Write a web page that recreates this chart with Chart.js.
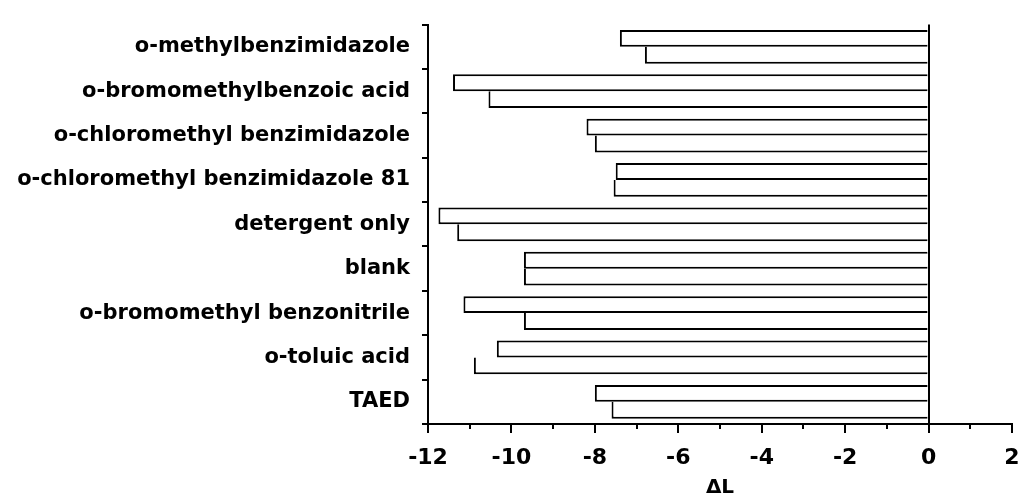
<!DOCTYPE html>
<html>
<head>
<meta charset="utf-8">
<title>ΔL by additive</title>
<script src="https://cdn.jsdelivr.net/npm/chart.js@4/dist/chart.umd.min.js"></script>
<style>
  html, body { margin: 0; padding: 0; background: #fff; overflow: hidden; }
  canvas { display: block; }
</style>
</head>
<body>
<canvas id="chart" width="1019" height="500"></canvas>
<script>
// additives, top to bottom
const compounds = [
  "o-methylbenzimidazole",
  "o-bromomethylbenzoic acid",
  "o-chloromethyl benzimidazole",
  "o-chloromethyl benzimidazole 81",
  "detergent only",
  "blank",
  "o-bromomethyl benzonitrile",
  "o-toluic acid",
  "TAED"
];

// two runs per additive (upper bar, lower bar)
const runA = [-7.4, -11.4, -8.2, -7.5, -11.75, -9.7, -11.15, -10.35, -8.0];
const runB = [-6.8, -10.55, -8.0, -7.55, -11.3, -9.7, -9.7, -10.9, -7.6];

const xMin = -12;
const xMax = 2;
const xStep = 2;
const minorTicks = [-11, -9, -7, -5, -3, -1, 1];

const FONT = "'DejaVu Sans', sans-serif";

// short ticks at the odd values under the x axis
const minorTickPlugin = {
  id: "minorTicks",
  afterDraw(chart) {
    const sx = chart.scales.x;
    const ctx = chart.ctx;
    const y0 = chart.chartArea.bottom;
    ctx.save();
    ctx.strokeStyle = "#000";
    ctx.lineWidth = 2;
    minorTicks.forEach(v => {
      const px = Math.round(sx.getPixelForValue(v));
      ctx.beginPath();
      ctx.moveTo(px, y0);
      ctx.lineTo(px, y0 + 5);
      ctx.stroke();
    });
    ctx.restore();
  }
};

// upper bar carries the shared middle line, lower bar skips its top edge
function barSet(label, data, top) {
  return {
    label,
    data,
    backgroundColor: "#fff",
    borderColor: "#000",
    borderWidth: top
      ? { top: 2, bottom: 2, left: 2, right: 0 }
      : { top: 0, bottom: 2, left: 2, right: 0 },
    borderSkipped: false,
    barPercentage: 1,
    categoryPercentage: 0.76
  };
}

new Chart(document.getElementById("chart"), {
  type: "bar",
  data: {
    labels: compounds,
    datasets: [barSet("run A", runA, true), barSet("run B", runB, false)]
  },
  options: {
    indexAxis: "y",
    responsive: false,
    animation: false,
    layout: { padding: { top: 20, right: 0, left: 0, bottom: 0 } },
    plugins: {
      legend: { display: false },
      tooltip: { enabled: false }
    },
    scales: {
      y: {
        grid: {
          display: true,
          drawOnChartArea: false,
          drawTicks: true,
          tickLength: 6,
          color: "#000",
          lineWidth: 2,
          offset: true
        },
        border: { display: true, color: "#000", width: 2 },
        ticks: {
          color: "#000",
          padding: 12,
          font: { family: FONT, size: 21, weight: "bold" }
        },
        afterFit(scale) { scale.width = 428; }
      },
      x: {
        min: xMin,
        max: xMax,
        z: 1,
        grid: {
          color: c => (c.tick && c.tick.value === 0 ? "#000" : "rgba(0,0,0,0)"),
          tickColor: "#000",
          lineWidth: 2,
          tickLength: 9,
          drawOnChartArea: true
        },
        border: { display: true, color: "#000", width: 2 },
        ticks: {
          stepSize: xStep,
          color: "#000",
          padding: 12,
          font: { family: FONT, size: 22, weight: "bold" }
        },
        title: {
          display: true,
          text: "ΔL",
          color: "#000",
          padding: { top: 0, bottom: 0 },
          font: { family: FONT, size: 20, weight: "bold" }
        },
        afterFit(scale) {
          scale.height = 76;
          scale.paddingRight = 7;
        }
      }
    }
  },
  plugins: [minorTickPlugin]
});
</script>
</body>
</html>
